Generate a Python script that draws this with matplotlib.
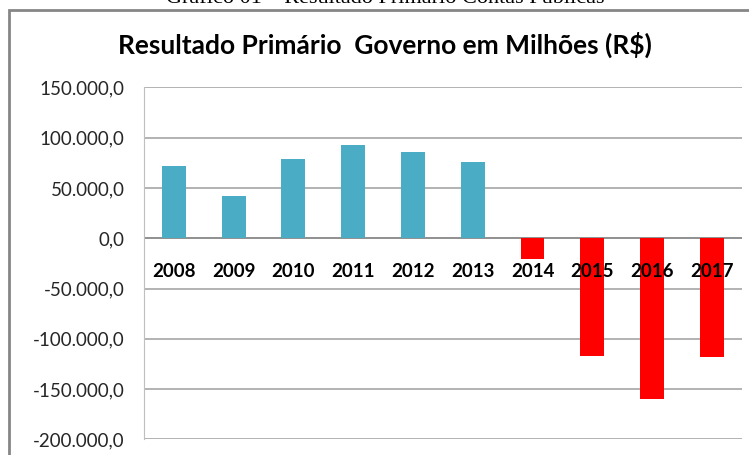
import matplotlib.pyplot as plt
from matplotlib.patches import Rectangle
from matplotlib.ticker import FuncFormatter

# dados (milhões de R$)
anos = ['2008', '2009', '2010', '2011', '2012', '2013', '2014', '2015', '2016', '2017']
resultado = [71400, 42400, 78700, 93000, 86100, 75300, -20500, -116700, -159500, -118400]
cores = ['#4BACC6' if v >= 0 else '#FF0000' for v in resultado]

plt.rcParams['font.family'] = ['Lato', 'DejaVu Sans']

fig = plt.figure(figsize=(7.49, 4.55), dpi=100)

# moldura do gráfico (cortada à direita e embaixo)
fig.patches.append(Rectangle((9 / 749, -0.2), 1.2, 1 - 9.5 / 455 + 0.2,
                             transform=fig.transFigure, fill=False,
                             edgecolor='#868686', linewidth=2))

# legenda do documento, quase toda fora da imagem
fig.text(0.515, 1 - 3 / 455, 'Gráfico 01 – Resultado Primário Contas Públicas',
         ha='center', va='baseline', fontsize=16, family='Liberation Serif')

fig.text(385 / 749, 1 - 54 / 455, 'Resultado Primário  Governo em Milhões (R$)',
         ha='center', va='baseline', fontsize=19, fontweight='bold')

ax = fig.add_axes([144 / 749, 1 - 439.4 / 455, (741.7 - 144) / 749, (439.4 - 87.3) / 455])
x = range(len(anos))
ax.bar(x, resultado, width=0.4, color=cores, zorder=3)

ax.set_xlim(-0.5, len(anos) - 0.5)
ax.set_ylim(-200000, 150000)
ax.set_yticks(range(-200000, 150001, 50000))
ax.yaxis.set_major_formatter(FuncFormatter(
    lambda v, p: f'{v:,.1f}'.replace(',', 'X').replace('.', ',').replace('X', '.')))
ax.tick_params(axis='y', length=0, labelsize=13.5, pad=14, labelcolor='#262626')
ax.set_xticks([])
ax.grid(axis='y', color='#A6A6A6', linewidth=1.2, zorder=0)
ax.axhline(0, color='#8C8C8C', linewidth=1.2, zorder=2)

for s in ['top', 'right', 'bottom']:
    ax.spines[s].set_visible(False)
ax.spines['left'].set_color('#BFBFBF')

for i, a in enumerate(anos):
    ax.text(i, -33200, a, ha='center', va='center', fontsize=13.5,
            fontweight='bold', color='black', zorder=4)

fig.savefig('out.png', dpi=100)
